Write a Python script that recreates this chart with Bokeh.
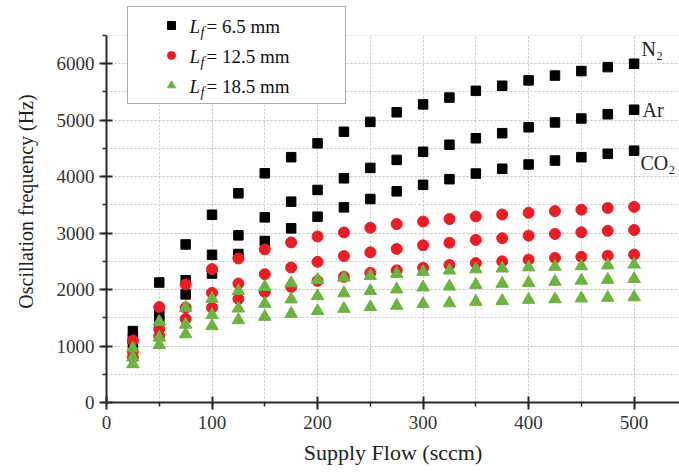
from bokeh.plotting import figure
from bokeh.models import (Range1d, SingleIntervalTicker, FixedTicker, LinearAxis,
                          Legend, LegendItem, Label, BoxAnnotation)
from bokeh.embed import file_html
from bokeh.resources import INLINE

# ---------------- data ----------------
flow = [25, 50, 75, 100, 125, 150, 175, 200, 225, 250,
        275, 300, 325, 350, 375, 400, 425, 450, 475, 500]

# Lf = 6.5 mm (black squares)
n2_65 = [1265, 2125, 2800, 3325, 3705, 4060, 4345, 4590, 4795, 4970,
         5140, 5280, 5400, 5520, 5610, 5705, 5790, 5870, 5940, 6000]
ar_65 = [1120, 1560, 2165, 2615, 2960, 3279, 3557, 3764, 3971, 4155,
         4297, 4440, 4565, 4680, 4770, 4875, 4960, 5030, 5105, 5185]
co2_65 = [1000, 1450, 1915, 2285, 2630, 2860, 3084, 3291, 3456, 3604,
          3740, 3855, 3955, 4055, 4140, 4215, 4285, 4345, 4405, 4460]

# Lf = 12.5 mm (red circles)
n2_125 = [1100, 1690, 2090, 2363, 2551, 2712, 2836, 2940, 3012, 3095,
          3160, 3205, 3250, 3295, 3330, 3360, 3390, 3415, 3445, 3465]
ar_125 = [900, 1300, 1680, 1940, 2107, 2273, 2391, 2492, 2594, 2659,
          2720, 2785, 2830, 2880, 2910, 2955, 2985, 3015, 3040, 3055]
co2_125 = [800, 1180, 1480, 1680, 1834, 1958, 2047, 2154, 2225, 2297,
           2340, 2385, 2435, 2470, 2500, 2530, 2560, 2580, 2600, 2620]

# Lf = 18.5 mm (green triangles)
n2_185 = [960, 1430, 1680, 1840, 1976, 2047, 2113, 2172, 2213, 2243,
          2280, 2315, 2340, 2360, 2375, 2395, 2405, 2415, 2430, 2445]
ar_185 = [800, 1150, 1380, 1550, 1667, 1750, 1828, 1887, 1935, 1976,
          2005, 2040, 2055, 2085, 2105, 2120, 2140, 2160, 2175, 2190]
co2_185 = [680, 1020, 1210, 1355, 1460, 1519, 1572, 1620, 1661, 1691,
           1715, 1745, 1760, 1785, 1800, 1820, 1830, 1845, 1855, 1865]

lf_values = ["6.5", "12.5", "18.5"]
gas_names = ["N\u2082", "Ar", "CO\u2082"]

# ---------------- figure ----------------
W, H = 679, 472
LEFT, RIGHT, BOTTOM = 106, 0, 70
AXIS_TOP_PX = 35          # where the y axis ends (value Y_AXIS_MAX)
X_MAX, Y_AXIS_MAX = 543, 6500

fw = W - LEFT - RIGHT
fh = H - BOTTOM            # frame reaches the top of the canvas
ky = (fh - AXIS_TOP_PX) / Y_AXIS_MAX
kx = fw / X_MAX
Y_RANGE_MAX = fh / ky

p = figure(width=W, height=H, output_backend="svg", toolbar_location=None,
           x_range=Range1d(0, X_MAX), y_range=Range1d(0, Y_RANGE_MAX),
           min_border_left=LEFT, min_border_right=RIGHT,
           min_border_top=0, min_border_bottom=BOTTOM)
p.outline_line_color = None
p.background_fill_color = "white"
p.border_fill_color = "white"


def to_data(px, py):
    return (px - LEFT) / kx, (fh - py) / ky


xt = SingleIntervalTicker(interval=100, num_minor_ticks=2)
yt = SingleIntervalTicker(interval=1000, num_minor_ticks=2)
p.xaxis.ticker = xt
p.yaxis.ticker = yt
p.xgrid.ticker = xt
p.ygrid.ticker = yt
p.yaxis.bounds = (0, Y_AXIS_MAX)
p.ygrid.bounds = (0, Y_AXIS_MAX)

for g in (p.xgrid[0], p.ygrid[0]):
    g.grid_line_color = "#c9c9c9"
    g.grid_line_dash = "2 2"
    g.grid_line_width = 1
    g.minor_grid_line_color = "#c9c9c9"
    g.minor_grid_line_dash = "2 2"
    g.minor_grid_line_width = 1

FONT = "Liberation Serif"
for ax in (p.xaxis[0], p.yaxis[0]):
    ax.axis_line_width = 2
    ax.axis_line_color = "#2a2a2a"
    ax.major_tick_line_color = "#2a2a2a"
    ax.minor_tick_line_color = "#2a2a2a"
    ax.major_tick_line_width = 2
    ax.minor_tick_line_width = 1.5
    ax.major_tick_in = 6
    ax.major_tick_out = 7
    ax.minor_tick_in = 0
    ax.minor_tick_out = 4
    ax.major_label_text_font = FONT
    ax.major_label_text_font_size = "19px"
    ax.major_label_text_color = "#333333"
    ax.axis_label_text_font = FONT
    ax.axis_label_text_font_style = "normal"
    ax.axis_label_text_color = "#222222"

p.xaxis.axis_label = "Supply Flow (sccm)"
p.xaxis.axis_label_text_font_size = "22px"
p.xaxis.major_label_standoff = 6
p.xaxis.axis_label_standoff = 8
p.yaxis.major_label_standoff = 5

# y-axis title on a tick-less outer axis, centred a little below the axis centre
title_center = (fh - 252) / ky
ttl = LinearAxis(axis_label="Oscillation frequency (Hz)", ticker=FixedTicker(ticks=[]),
                 bounds=(0, 2 * title_center), axis_line_color=None,
                 major_tick_in=0, major_tick_out=0, minor_tick_in=0, minor_tick_out=0,
                 major_label_standoff=0, axis_label_standoff=17,
                 axis_label_text_font=FONT, axis_label_text_font_style="normal",
                 axis_label_text_font_size="20px", axis_label_text_color="#222222")
p.add_layout(ttl, "left")

# hide the vertical grid above the top of the y axis
p.add_layout(BoxAnnotation(bottom=Y_AXIS_MAX, fill_color="white", fill_alpha=1.0,
                           line_color=None, level="underlay"))

BLACK = "#000000"
RED = "#ec1c24"
GREEN = "#6cb33f"

blk = [p.scatter(flow, s, marker="square", size=9.5, color=BLACK)
       for s in (n2_65, ar_65, co2_65)]
red = [p.scatter(flow, s, marker="circle", size=11, color=RED)
       for s in (n2_125, ar_125, co2_125)]
grn = [p.scatter(flow, s, marker="triangle", size=12.5, color=GREEN)
       for s in (n2_185, ar_185, co2_185)]

# ---------------- legend ----------------
leg_left_px, leg_top_px = 127, 8
pad, gw, gh, lw, spc = 8, 70, 20, 131, 10
leg_w = 2 * pad + gw + lw
leg_h = 2 * pad + 3 * gh + 2 * spc

# white backing of the legend box (below the legend texts)
bl, bt = to_data(leg_left_px, leg_top_px)
br, bb = to_data(leg_left_px + leg_w, leg_top_px + leg_h)
p.add_layout(BoxAnnotation(left=bl, right=br, top=bt, bottom=bb,
                           fill_color="white", fill_alpha=1.0, line_color=None))

for i, v in enumerate(lf_values):
    row = leg_top_px + pad + gh / 2 + i * (gh + spc)
    x, y = to_data(189, row)
    p.add_layout(Label(x=x, y=y, text="L", text_font=FONT, text_font_style="italic",
                       text_font_size="19px", text_baseline="middle",
                       text_color="#111111"))
    x, y = to_data(200, row + 6)
    p.add_layout(Label(x=x, y=y, text="f", text_font=FONT, text_font_style="italic",
                       text_font_size="14px", text_baseline="middle",
                       text_color="#111111"))
    x, y = to_data(206, row)
    p.add_layout(Label(x=x, y=y, text="= " + v + " mm", text_font=FONT,
                       text_font_size="19px", text_baseline="middle",
                       text_color="#111111"))

legend = Legend(
    items=[LegendItem(label=" ", renderers=[blk[0]]),
           LegendItem(label=" ", renderers=[red[0]]),
           LegendItem(label=" ", renderers=[grn[0]])],
    location=(leg_left_px - LEFT, fh - (leg_top_px + leg_h)),
    glyph_width=gw, glyph_height=gh, label_width=lw, label_height=gh,
    label_standoff=0, spacing=spc, padding=pad, margin=0,
    border_line_color="#555555", border_line_width=1,
    background_fill_alpha=0.0,
    label_text_font_size="12px")
p.add_layout(legend)

# gas labels at the right
for name, (gx, gy) in zip(gas_names, [(641, 48), (642, 109), (640, 162)]):
    x, y = to_data(gx, gy)
    p.add_layout(Label(x=x, y=y, text=name, text_font=FONT, text_font_size="20px",
                       text_baseline="middle", text_color="#222222"))

open("out.html", "w").write(file_html(p, INLINE))
